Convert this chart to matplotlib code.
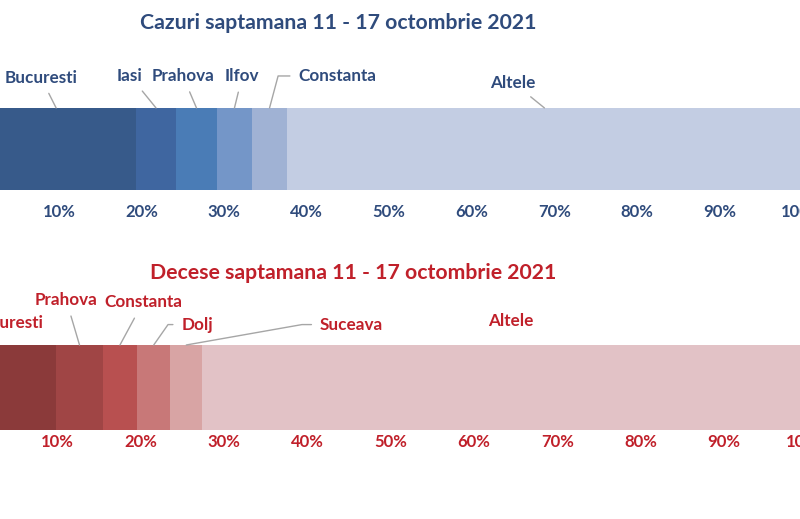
import numpy as np
import matplotlib
matplotlib.use("Agg")
import matplotlib.pyplot as plt

plt.rcParams['font.family'] = ['Lato', 'DejaVu Sans']
plt.rcParams['font.weight'] = 'bold'

# Cazuri (percent of total)
caz_names = ['Bucuresti', 'Iasi', 'Prahova', 'Ilfov', 'Constanta', 'Altele']
caz_values = [19.3, 4.9, 4.9, 4.3, 4.2, 62.4]
caz_colors = ['#375a8a', '#3f66a0', '#4a7cb6', '#7496c8', '#a0b2d4', '#c3cde3']

# Decese (percent of total)
dec_names = ['Bucuresti', 'Prahova', 'Constanta', 'Dolj', 'Suceava', 'Altele']
dec_values = [9.9, 5.6, 4.1, 4.0, 3.8, 72.6]
dec_colors = ['#8b3a3a', '#a04545', '#b85050', '#c87878', '#d8a4a4', '#e2c2c6']

ticks = np.arange(10, 101, 10)
tick_labels = [f'{t}%' for t in ticks]

blue_txt = '#2f4b7c'
red_txt = '#c0202a'
line_col = '#a6a6a6'

fig = plt.figure(figsize=(8, 5.19), dpi=100)


def stacked(ax, values, colors):
    left = 0
    mids = []
    for v, c in zip(values, colors):
        ax.barh(0, v, left=left, height=1, color=c, linewidth=0)
        mids.append(left + v / 2)
        left += v
    ax.set_xlim(0, 100)
    ax.set_ylim(-0.5, 0.5)
    ax.set_yticks([])
    ax.set_xticks(ticks)
    for s in ax.spines.values():
        s.set_visible(False)
    ax.tick_params(axis='x', length=0)
    return mids


# top chart
ax1 = fig.add_axes([-0.0294, 0.634, 1.0319, 0.158])
mids1 = stacked(ax1, caz_values, caz_colors)
ax1.set_xticklabels(tick_labels, color=blue_txt, fontsize=12, fontweight='bold')
ax1.tick_params(axis='x', pad=10)

# label positions (x data, y data) and connection style
caz_text = [(7.8, 0.87, 'arc3'), (18.6, 0.89, 'arc3'), (25.0, 0.89, 'arc3'),
            (32.2, 0.89, 'arc3'), (43.7, 0.89, 'angle,angleA=180,angleB=75,rad=0'),
            (65.0, 0.81, 'arc3')]
for name, m, (tx, ty, cs) in zip(caz_names, mids1, caz_text):
    ax1.annotate(name, xy=(m, 0.5), xytext=(tx, ty), ha='center', va='center',
                 color=blue_txt, fontsize=12.3, fontweight='bold', annotation_clip=False,
                 arrowprops=dict(arrowstyle='-', color=line_col, lw=1,
                                 connectionstyle=cs, shrinkA=4, shrinkB=0))

fig.text(0.4225, 0.955, 'Cazuri saptamana 11 - 17 octombrie 2021', ha='center',
         va='center', color=blue_txt, fontsize=15.3, fontweight='bold')

# bottom chart
ax2 = fig.add_axes([-0.033, 0.1715, 1.0425, 0.1638])
mids2 = stacked(ax2, dec_values, dec_colors)
ax2.set_xticklabels(tick_labels, color=red_txt, fontsize=12, fontweight='bold')
ax2.tick_params(axis='x', pad=3)

dec_text = [(4.0, 0.76, None), (11.1, 1.03, 'arc3'), (20.3, 1.0, 'arc3'),
            (26.8, 0.74, 'angle,angleA=180,angleB=55,rad=0'),
            (45.3, 0.74, 'angle,angleA=180,angleB=10,rad=0'), (64.4, 0.78, None)]
for name, m, (tx, ty, cs) in zip(dec_names, mids2, dec_text):
    if cs is None:
        ax2.text(tx, ty, name, ha='center', va='center', color=red_txt,
                 fontsize=12.3, fontweight='bold', clip_on=False)
        continue
    ax2.annotate(name, xy=(m, 0.5), xytext=(tx, ty), ha='center', va='center',
                 color=red_txt, fontsize=12.3, fontweight='bold', annotation_clip=False,
                 arrowprops=dict(arrowstyle='-', color=line_col, lw=1,
                                 connectionstyle=cs, shrinkA=4, shrinkB=0))

fig.text(0.441, 0.474, 'Decese saptamana 11 - 17 octombrie 2021', ha='center',
         va='center', color=red_txt, fontsize=15.3, fontweight='bold')

fig.savefig('out.png', dpi=100)
